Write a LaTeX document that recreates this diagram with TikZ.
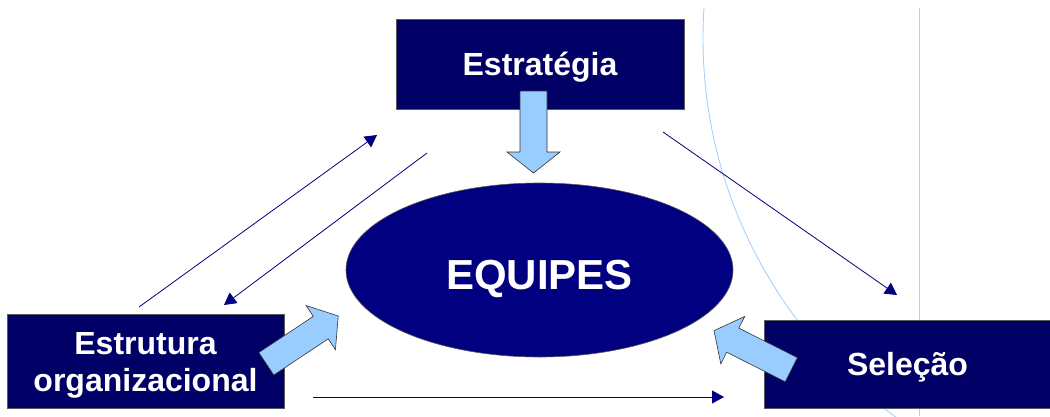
\documentclass[tikz,border=0pt]{standalone}
\usepackage{fontspec}
\setmainfont{Liberation Sans}
\usetikzlibrary{arrows.meta,shapes.geometric}
\definecolor{boxnavy}{HTML}{000066}
\definecolor{ellnavy}{HTML}{000080}
\definecolor{lightblue}{HTML}{99CCFF}
\definecolor{linenavy}{HTML}{000080}
\definecolor{decoblue}{HTML}{A6D2FF}
\newcommand\barrowshape[1]{\draw[blockarrow] (0,-13.5) -- (#1-21,-13.5) -- (#1-21,-26.5) -- (#1,0) -- (#1-21,26.5) -- (#1-21,13.5) -- (0,13.5) -- cycle;}
\begin{document}
\begin{tikzpicture}[x=1pt,y=-1pt,
  box/.style={draw=black!65, line width=0.6pt, fill=boxnavy, text=white,
    font=\bfseries\fontsize{32}{37}\selectfont, inner sep=0pt, align=center,
    text height=23pt, text depth=0pt},
  hub/.style={ellipse, draw=black!65, line width=0.6pt, fill=ellnavy, text=white,
    font=\bfseries\fontsize{42}{46}\selectfont, inner sep=0pt,
    minimum width=387pt, minimum height=174pt, text height=38pt, text depth=0pt},
  thinarrow/.style={draw=linenavy, line width=0.8pt, -{Triangle[length=12pt,width=13pt]}},
  blockarrow/.style={draw=black!80, line width=0.6pt, fill=lightblue, line join=miter},
  deco/.style={draw=decoblue, line width=0.9pt}]
\useasboundingbox (0,0) rectangle (1050,416);
\fill[white] (0,0) rectangle (1050,416);
% decorative slide lines
\begin{scope}
  \clip (0,8) rectangle (1050,416);
  \draw[deco] (1172,38) circle[radius=469pt];
\end{scope}
\coordinate (v1) at (919,8);
\coordinate (v2) at (919,416);
\draw[deco] (v1) -- (v2);
% thin arrows
\coordinate (a1s) at (139,307); \coordinate (a1e) at (377,135);
\coordinate (a2s) at (427,153); \coordinate (a2e) at (224,305);
\coordinate (a3s) at (663,132); \coordinate (a3e) at (897,295);
\coordinate (a4s) at (313,397); \coordinate (a4e) at (724,397);
\draw[thinarrow] (a1s) -- (a1e);
\draw[thinarrow] (a2s) -- (a2e);
\draw[thinarrow] (a3s) -- (a3e);
\draw[thinarrow] (a4s) -- (a4e);
% boxes
\node[box, minimum width=288pt, minimum height=90pt] (estr) at (540,64) {Estratégia};
\node[box, minimum width=277pt, minimum height=94pt, text height=60pt] (org) at (145.5,361) {Estrutura\\organizacional};
\node[box, minimum width=287pt, minimum height=88pt] (sel) at (907.5,364) {Seleção};
\node[hub] (eq) at (539.5,270) {EQUIPES\hspace{8pt}};
% block arrows
\coordinate (b1) at (533.5,91);
\coordinate (b2) at (266.3,363.8);
\coordinate (b3) at (791.3,369.7);
\begin{scope}[shift={(b1)}, rotate=-90] \barrowshape{82} \end{scope}
\begin{scope}[shift={(b2)}, rotate=33.6] \barrowshape{86.4} \end{scope}
\begin{scope}[shift={(b3)}, rotate=153.2] \barrowshape{86.6} \end{scope}
\end{tikzpicture}
\end{document}
